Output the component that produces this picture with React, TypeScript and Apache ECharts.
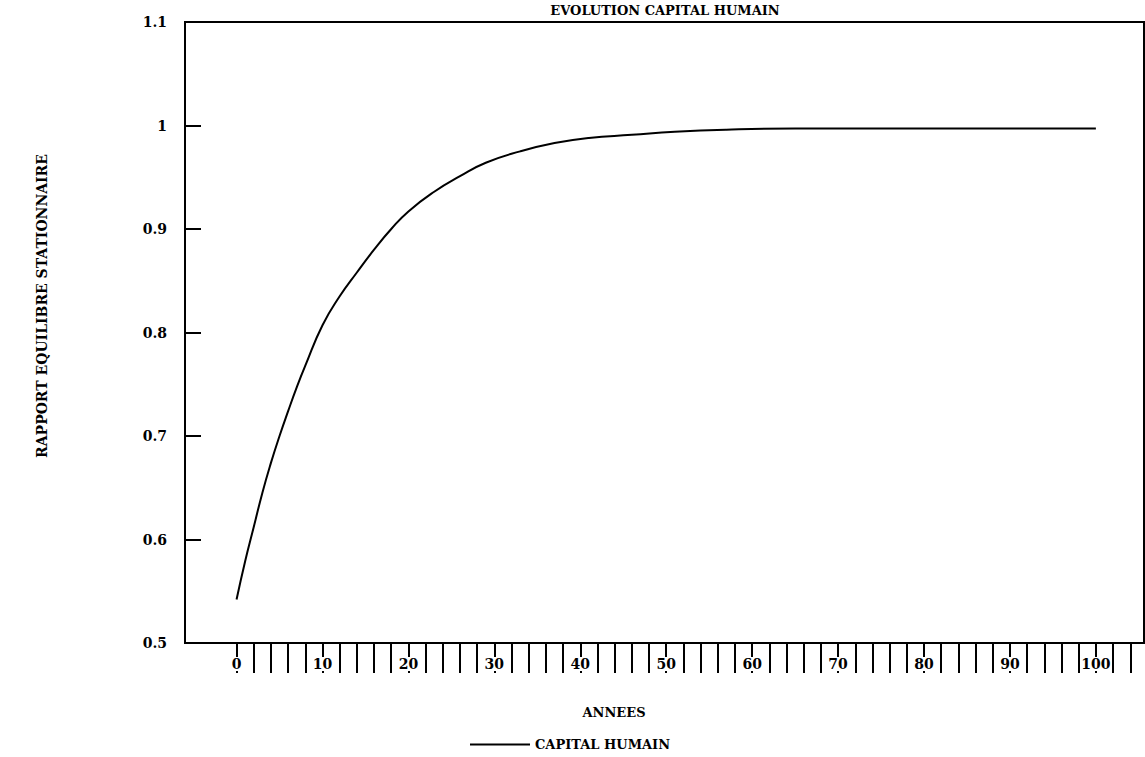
import React, { useEffect, useRef } from "react";
import * as echarts from "echarts";

const years = [0, 1, 2, 3, 4, 5, 6, 7, 8, 10, 12, 14, 16, 18, 20, 23, 26, 29, 33, 37, 41, 46, 51, 57, 65, 75, 88, 100];
const capitalHumain = [0.542, 0.579, 0.612, 0.645, 0.674, 0.7, 0.724, 0.747, 0.768, 0.807, 0.835, 0.858, 0.88, 0.9, 0.917, 0.936, 0.951, 0.964, 0.975, 0.983, 0.988, 0.991, 0.994, 0.996, 0.997, 0.997, 0.997, 0.997];
const yTicks = [0.5, 0.6, 0.7, 0.8, 0.9, 1, 1.1];
const xLabels = [0, 10, 20, 30, 40, 50, 60, 70, 80, 90, 100];
const xTicks = [0, 2, 4, 6, 8, 10, 12, 14, 16, 18, 20, 22, 24, 26, 28, 30, 32, 34, 36, 38, 40, 42, 44, 46, 48, 50, 52, 54, 56, 58, 60, 62, 64, 66, 68, 70, 72, 74, 76, 78, 80, 82, 84, 86, 88, 90, 92, 94, 96, 98, 100, 102, 104];

const FONT = "'DejaVu Serif', 'Liberation Serif', serif";

export default function App() {
  const ref = useRef<HTMLDivElement>(null);
  useEffect(() => {
    if (!ref.current) return;
    const chart = echarts.init(ref.current, null, { renderer: "svg" });
    chart.setOption({
      animation: false,
      backgroundColor: "#ffffff",
      grid: { left: 185, top: 22, right: 1, bottom: 114, show: true, borderColor: "#000", borderWidth: 2, backgroundColor: "transparent" },
      xAxis: {
        type: "value",
        min: -6,
        max: 105.6,
        splitLine: { show: false },
        axisLine: { show: true, onZero: false, lineStyle: { color: "#000", width: 2 } },
        axisTick: { show: true, inside: false, length: 30, customValues: xTicks, lineStyle: { color: "#000", width: 2 } },
        axisLabel: {
          margin: 14,
          color: "#000",
          fontFamily: FONT,
          fontWeight: "bold",
          fontSize: 14,
          backgroundColor: "#fff",
          customValues: xLabels,
          formatter: (v: number) => String(Math.round(v)),
        },
      },
      yAxis: {
        type: "value",
        min: 0.5,
        max: 1.1,
        interval: 0.1,
        splitLine: { show: false },
        axisLine: { show: true, onZero: false, lineStyle: { color: "#000", width: 2 } },
        axisTick: { show: true, inside: true, length: 16, lineStyle: { color: "#000", width: 2 } },
        axisLabel: {
          margin: 18,
          color: "#000",
          fontFamily: FONT,
          fontWeight: "bold",
          fontSize: 14,
          formatter: (v: number) => {
            const t = yTicks.find((k) => Math.abs(k - v) < 1e-6);
            return t === undefined ? "" : String(t);
          },
        },
      },
      legend: {
        show: true,
        left: 465,
        top: 733,
        icon: "rect",
        itemWidth: 60,
        itemHeight: 2,
        itemGap: 8,
        textStyle: { color: "#000", fontFamily: FONT, fontWeight: "bold", fontSize: 13 },
        data: [{ name: "CAPITAL HUMAIN" }],
      },
      series: [
        {
          name: "CAPITAL HUMAIN",
          type: "line",
          data: years.map((y, i) => [y, capitalHumain[i]]),
          smooth: true,
          showSymbol: false,
          symbol: "none",
          lineStyle: { color: "#000", width: 2 },
          itemStyle: { color: "#000" },
        },
      ],
      graphic: [
        {
          type: "text",
          x: 665,
          y: 10,
          style: { text: "EVOLUTION CAPITAL HUMAIN", fill: "#000", font: `bold 13px ${FONT}`, align: "center", verticalAlign: "middle" },
        },
        {
          type: "text",
          x: 614,
          y: 712,
          style: { text: "ANNEES", fill: "#000", font: `bold 13px ${FONT}`, align: "center", verticalAlign: "middle" },
        },
        {
          type: "text",
          x: 42,
          y: 306,
          rotation: Math.PI / 2,
          style: { text: "RAPPORT EQUILIBRE STATIONNAIRE", fill: "#000", font: `bold 14px ${FONT}`, align: "center", verticalAlign: "middle" },
        },
      ],
    });
    return () => chart.dispose();
  }, []);
  return <div ref={ref} style={{ position: "fixed", left: 0, top: 0, width: 1145, height: 757, background: "#fff" }} />;
}
